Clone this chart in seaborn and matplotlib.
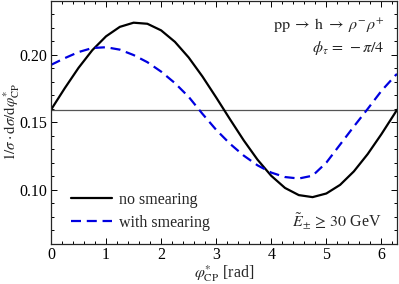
import numpy as np
import pandas as pd
import matplotlib
matplotlib.use("Agg")
import matplotlib.pyplot as plt
import seaborn as sns
from matplotlib.ticker import MultipleLocator
from matplotlib.lines import Line2D

# ---- data ----
phi = [0.0, 0.25, 0.5, 0.75, 1.0, 1.25, 1.5, 1.75, 2.0, 2.25, 2.5, 2.75, 3.0,
       3.25, 3.5, 3.75, 4.0, 4.25, 4.5, 4.75, 5.0, 5.25, 5.5, 5.75, 6.0, 6.25, 6.283]
no_smearing = [0.1592, 0.1752, 0.1903, 0.2034, 0.2137, 0.2207, 0.2238, 0.2230, 0.2181,
               0.2096, 0.1980, 0.1839, 0.1683, 0.1522, 0.1365, 0.1222, 0.1102, 0.1012,
               0.0959, 0.0944, 0.0971, 0.1035, 0.1135, 0.1263, 0.1411, 0.1570, 0.1592]
with_smearing = [0.1925, 0.1975, 0.2020, 0.2050, 0.2056, 0.2038, 0.1998, 0.1945, 0.1875,
                 0.1790, 0.1688, 0.1562, 0.1443, 0.1340, 0.1252, 0.1180, 0.1126, 0.1093,
                 0.1082, 0.1103, 0.1200, 0.1334, 0.1468, 0.1598, 0.1732, 0.1845, 0.1858]
flat_level = 0.1592
series_names = ["no smearing", "with smearing"]
x_ticks = [0, 1, 2, 3, 4, 5, 6]
y_ticks = [0.10, 0.15, 0.20]

df = pd.concat([
    pd.DataFrame({"phi": phi, "val": no_smearing, "series": series_names[0]}),
    pd.DataFrame({"phi": phi, "val": with_smearing, "series": series_names[1]}),
])

sns.set_style("ticks")
plt.rcParams["font.family"] = ["Liberation Serif", "DejaVu Serif"]
plt.rcParams["mathtext.fontset"] = "stix"
plt.rcParams["axes.linewidth"] = 0.9

FS = 11.5
BLUE = "#0000e0"

fig = plt.figure(figsize=(3.99, 2.84), dpi=100)
ax = fig.add_axes([0.1278, 0.1426, 0.995 - 0.1278, 0.997 - 0.1426])

ax.axhline(flat_level, color="#555555", lw=0.9, zorder=1)
sns.lineplot(data=df, x="phi", y="val", hue="series", style="series",
             palette={series_names[0]: "black", series_names[1]: BLUE},
             dashes={series_names[0]: "", series_names[1]: (4.5, 2.6)},
             linewidth=1.6, ax=ax, legend=False, sort=False, estimator=None)

ax.set_xlim(0, 2 * np.pi)
ax.set_ylim(0.06, 0.24)
ax.set_xticks(x_ticks)
ax.set_yticks(y_ticks)
ax.set_xticklabels([str(t) for t in x_ticks])
ax.set_yticklabels([f"{t:.2f}" for t in y_ticks])
ax.xaxis.set_minor_locator(MultipleLocator(0.2))
ax.yaxis.set_minor_locator(MultipleLocator(0.01))
ax.tick_params(which="both", direction="in", top=True, right=True, labelsize=FS,
               width=0.7, colors="black")
ax.tick_params(which="major", length=4.5, pad=2.5)
ax.tick_params(which="minor", length=2.3)

ax.set_xlabel(r"$\varphi^{*}_{\mathrm{CP}}$ [rad]", fontsize=FS, labelpad=0)
ax.set_ylabel(r"$1/\sigma\cdot\mathrm{d}\sigma/\mathrm{d}\varphi^{*}_{\mathrm{CP}}$",
              fontsize=10.8)
ax.yaxis.set_label_coords(-0.083, 0.5)

handles = [Line2D([], [], color="black", lw=1.6),
           Line2D([], [], color=BLUE, lw=1.6, dashes=(4.5, 2.6))]
ax.legend(handles, series_names, loc="lower left", bbox_to_anchor=(0.02, 0.0),
          frameon=False, fontsize=FS, handlelength=2.6, handletextpad=0.45,
          labelspacing=0.45, borderaxespad=0.4)

ax.text(0.963, 0.897, r"$\mathrm{pp}\;\rightarrow\;\mathrm{h}\;\rightarrow\;\rho^{-}\rho^{+}$",
        transform=ax.transAxes, ha="right", va="center", fontsize=FS)
ax.text(0.963, 0.807, r"$\phi_{\tau}\,=\,-\pi/4$",
        transform=ax.transAxes, ha="right", va="center", fontsize=FS)
ax.text(0.955, 0.09, r"$\tilde{E}_{\pm}\,\geq\,30$ GeV",
        transform=ax.transAxes, ha="right", va="center", fontsize=FS)

fig.savefig("out.png", dpi=100)
